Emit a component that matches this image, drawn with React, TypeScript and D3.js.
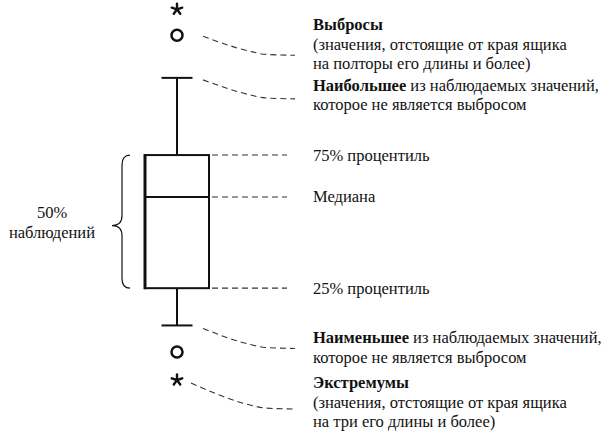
import * as d3 from 'd3';
import { useEffect, useRef } from 'react';

// schematic box plot values (arbitrary units)
const boxStats = { q1: 40, median: 53.7, q3: 60 };
const whiskers = { low: 34.4, high: 71.6 };
const outliers = [30.4, 78];
const extremes = [26.2, 81.9];

// right-hand captions: [bold part, normal part] per line
const notes = [
  { key: 'outlierHigh', lines: [['Выбросы', ''], ['', '(значения, отстоящие от края ящика'], ['', 'на полторы его длины и более)']] },
  { key: 'whiskerHigh', lines: [['Наибольшее', ' из наблюдаемых значений,'], ['', 'которое не является выбросом']] },
  { key: 'q3', lines: [['', '75% процентиль']] },
  { key: 'median', lines: [['', 'Медиана']] },
  { key: 'q1', lines: [['', '25% процентиль']] },
  { key: 'whiskerLow', lines: [['Наименьшее', ' из наблюдаемых значений,'], ['', 'которое не является выбросом']] },
  { key: 'extremeLow', lines: [['Экстремумы', ''], ['', '(значения, отстоящие от края ящика'], ['', 'на три его длины и более)']] },
];
const braceLabel = ['50%', 'наблюдений'];

function App() {
  const svgElement = useRef<SVGSVGElement | null>(null);

  useEffect(() => {
    const svg = d3.select(svgElement.current);
    svg.selectAll('*').remove();

    const y = d3.scaleLinear().domain([25, 83]).range([388, 2]);
    const cx = 177;
    const boxL = 145;
    const boxR = 209;
    const capHalf = 15.5;
    const font = '"Liberation Serif", "DejaVu Serif", serif';
    const fontSize = '16.5px';
    const ink = '#111';

    const g = svg.append('g');

    // whiskers
    g.append('line').attr('x1', cx).attr('x2', cx)
      .attr('y1', y(whiskers.high)).attr('y2', y(boxStats.q3))
      .attr('stroke', ink).attr('stroke-width', 2);
    g.append('line').attr('x1', cx).attr('x2', cx)
      .attr('y1', y(boxStats.q1)).attr('y2', y(whiskers.low))
      .attr('stroke', ink).attr('stroke-width', 2);
    [whiskers.high, whiskers.low].forEach((v) => {
      g.append('line').attr('x1', cx - capHalf).attr('x2', cx + capHalf)
        .attr('y1', y(v)).attr('y2', y(v))
        .attr('stroke', ink).attr('stroke-width', 2);
    });

    // box
    g.append('rect')
      .attr('x', boxL).attr('y', y(boxStats.q3))
      .attr('width', boxR - boxL).attr('height', y(boxStats.q1) - y(boxStats.q3))
      .attr('fill', 'none').attr('stroke', ink).attr('stroke-width', 2);
    g.append('line').attr('x1', boxL).attr('x2', boxL)
      .attr('y1', y(boxStats.q3) - 1).attr('y2', y(boxStats.q1) + 1)
      .attr('stroke', ink).attr('stroke-width', 3);
    g.append('line').attr('x1', boxL).attr('x2', boxR)
      .attr('y1', y(boxStats.median)).attr('y2', y(boxStats.median))
      .attr('stroke', ink).attr('stroke-width', 2);

    // outliers
    g.selectAll('.outlier').data(outliers).join('circle')
      .attr('class', 'outlier')
      .attr('cx', cx).attr('cy', (d) => y(d)).attr('r', 5.5)
      .attr('fill', 'none').attr('stroke', ink).attr('stroke-width', 2.5);

    // extremes as asterisks
    extremes.forEach((v) => {
      const arms = d3.range(5).map((i) => (i * 2 * Math.PI) / 5);
      g.append('g').attr('transform', `translate(${cx},${y(v)})`)
        .selectAll('line').data(arms).join('line')
        .attr('x1', 0).attr('y1', 0)
        .attr('x2', (a) => 5.5 * Math.sin(a)).attr('y2', (a) => -5.5 * Math.cos(a))
        .attr('stroke', ink).attr('stroke-width', 2.4).attr('stroke-linecap', 'round');
    });

    // leader geometry per caption: start offset, end drop, first baseline relative to leader end
    const anchors: Record<string, number> = {
      outlierHigh: outliers[1], whiskerHigh: whiskers.high,
      q3: boxStats.q3, median: boxStats.median, q1: boxStats.q1,
      whiskerLow: whiskers.low, extremeLow: extremes[0],
    };
    const leaderStyle: Record<string, { x0: number; dy0: number; drop: number; tdy: number }> = {
      outlierHigh: { x0: 203, dy0: 1, drop: 20, tdy: -25 },
      whiskerHigh: { x0: 203, dy0: 2, drop: 21, tdy: -8 },
      whiskerLow: { x0: 203, dy0: 3, drop: 23, tdy: -5 },
      extremeLow: { x0: 191, dy0: 3, drop: 29, tdy: -21 },
    };
    const textX = 313;
    const lineH = 19.5;
    notes.forEach((n) => {
      const py = y(anchors[n.key]);
      const st = leaderStyle[n.key];
      let pts: [number, number][];
      let ty: number;
      if (st) {
        const end = py + st.drop;
        pts = [[st.x0, py + st.dy0], [250, end - 4], [265, end - 1], [295, end]];
        ty = end + st.tdy;
      } else {
        pts = [[212, py], [287, py]];
        ty = py + 5.5;
      }
      g.append('path')
        .attr('d', d3.line().curve(d3.curveMonotoneX)(pts))
        .attr('fill', 'none').attr('stroke', '#333').attr('stroke-width', 1.1)
        .attr('stroke-dasharray', '6,4');

      const t = g.append('text').style('font-family', font).style('font-size', fontSize).attr('fill', ink);
      n.lines.forEach((ln, i) => {
        const row = t.append('tspan').attr('x', textX).attr('y', ty + i * lineH);
        if (ln[0]) row.append('tspan').style('font-weight', 'bold').text(ln[0]);
        if (ln[1]) row.append('tspan').text(ln[1]);
      });
    });

    // curly brace for 50%
    const top = y(boxStats.q3);
    const bot = y(boxStats.q1);
    const mid = (top + bot) / 2 + 4;
    const bx = 122;
    const tip = 112;
    const brace = `M${bx + 8},${top} Q${bx},${top} ${bx},${top + 10} L${bx},${mid - 10} Q${bx},${mid} ${tip},${mid}` +
      ` Q${bx},${mid} ${bx},${mid + 10} L${bx},${bot - 10} Q${bx},${bot} ${bx + 8},${bot}`;
    g.append('path').attr('d', brace).attr('fill', 'none').attr('stroke', ink).attr('stroke-width', 1.2);

    g.append('text').style('font-family', font).style('font-size', fontSize).attr('fill', ink)
      .attr('text-anchor', 'middle')
      .selectAll('tspan').data(braceLabel).join('tspan')
      .attr('x', 52).attr('y', (_, i) => mid - 8 + i * 20).text((d) => d);
  }, []);

  return (
    <svg ref={svgElement} width={604} height={437}
      style={{ position: 'absolute', left: 0, top: 0, background: '#fff' }} />
  );
}

export default App;
